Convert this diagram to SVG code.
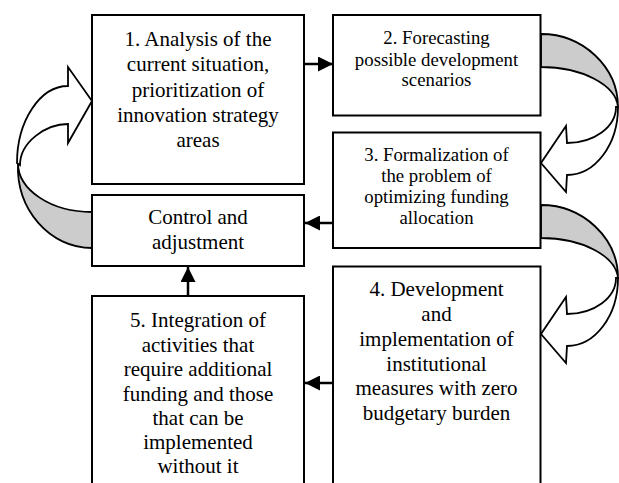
<svg xmlns="http://www.w3.org/2000/svg" width="619" height="483" viewBox="0 0 619 483">
<defs>
<style>
.box{fill:#fff;stroke:#000;stroke-width:2}
.t{font-family:"Liberation Serif","Times New Roman",serif;fill:#000;text-anchor:middle}
.big{font-size:21px}
.sm{font-size:18.8px}
.conn{stroke:#000;stroke-width:2.5;fill:none}
.shade{fill:#cccccc;stroke:#000;stroke-width:1.8;stroke-linejoin:round}
.wh{fill:#fff;stroke:#000;stroke-width:1.8;stroke-linejoin:miter}
</style>
<marker id="ah" viewBox="0 0 15 15" refX="15" refY="7.5" markerWidth="15" markerHeight="15" markerUnits="userSpaceOnUse" orient="auto">
<path d="M0,0 L15,7.5 L0,15 Z" fill="#000"/>
</marker>
</defs>
<rect width="619" height="483" fill="#fff"/>

<g id="curved-arrows">
<g id="curve-2-3">
<path class="shade" d="M541,34 C583,34 618,67 618,107 C616,85 582,67 541,67 Z"/>
<path class="wh" d="M618,107 C618,145 595,175 567,175 L566,192 L541,163 L566,126 L567,143 C594,143 616,127 616,107 Z"/>
</g>
<g id="curve-3-4" transform="translate(0,171)">
<path class="shade" d="M541,34 C583,34 618,67 618,107 C616,85 582,67 541,67 Z"/>
<path class="wh" d="M618,107 C618,145 595,175 567,175 L566,192 L541,163 L566,126 L567,143 C594,143 616,127 616,107 Z"/>
</g>
<g id="curve-ctrl-1">
<path class="shade" d="M92,212 C51,212 18,190 18,163 C16,210 50,248 92,248 Z"/>
<path class="wh" d="M17,163 C17,121 40,86 68,86 L68,67 L92,101 L68,143 L68,124 C46,124 20,142 20,165 Z"/>
</g>
</g>

<g id="node1">
<rect class="box" x="92" y="15" width="212" height="169"/>
<text class="t big"><tspan x="198" y="45.5">1. Analysis of the</tspan><tspan x="198" y="71">current situation,</tspan><tspan x="198" y="96.5">prioritization of</tspan><tspan x="198" y="121.5">innovation strategy</tspan><tspan x="198" y="147">areas</tspan></text>
</g>
<g id="node2">
<rect class="box" x="333" y="15" width="207.5" height="100.5"/>
<text class="t sm"><tspan x="436.5" y="44">2. Forecasting</tspan><tspan x="436.5" y="65.5">possible development</tspan><tspan x="436.5" y="86">scenarios</tspan></text>
</g>
<g id="node3">
<rect class="box" x="333" y="132.5" width="207.5" height="115.5"/>
<text class="t sm"><tspan x="436.5" y="160.5">3. Formalization of</tspan><tspan x="436.5" y="181.5">the problem of</tspan><tspan x="436.5" y="203">optimizing funding</tspan><tspan x="436.5" y="224">allocation</tspan></text>
</g>
<g id="node-control">
<rect class="box" x="92" y="195" width="212" height="71"/>
<text class="t big"><tspan x="198" y="224">Control and</tspan><tspan x="198" y="249">adjustment</tspan></text>
</g>
<g id="node4">
<rect class="box" x="333" y="266.5" width="207.5" height="230"/>
<text class="t big"><tspan x="436.5" y="296">4. Development</tspan><tspan x="436.5" y="320.5">and</tspan><tspan x="436.5" y="345.5">implementation of</tspan><tspan x="436.5" y="370.5">institutional</tspan><tspan x="436.5" y="395">measures with zero</tspan><tspan x="436.5" y="420">budgetary burden</tspan></text>
</g>
<g id="node5">
<rect class="box" x="92" y="296" width="212" height="200"/>
<text class="t big"><tspan x="198" y="327">5. Integration of</tspan><tspan x="198" y="351.5">activities that</tspan><tspan x="198" y="376">require additional</tspan><tspan x="198" y="400.5">funding and those</tspan><tspan x="198" y="425">that can be</tspan><tspan x="198" y="449">implemented</tspan><tspan x="198" y="473">without it</tspan></text>
</g>

<g id="connectors">
<line class="conn" x1="305" y1="64" x2="333" y2="64" marker-end="url(#ah)"/>
<line class="conn" x1="332" y1="223" x2="305" y2="223" marker-end="url(#ah)"/>
<line class="conn" x1="332" y1="383" x2="305" y2="383" marker-end="url(#ah)"/>
<line class="conn" x1="188" y1="295" x2="188" y2="267" marker-end="url(#ah)"/>
</g>
</svg>
